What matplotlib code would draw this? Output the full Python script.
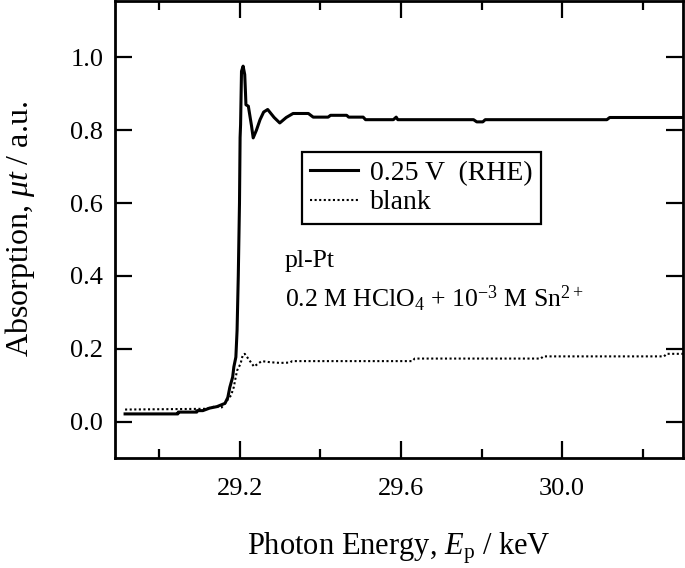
import matplotlib
matplotlib.use("Agg")
import matplotlib.pyplot as plt
from matplotlib.ticker import MultipleLocator, FormatStrFormatter

plt.rcParams.update({
    "font.family": "Liberation Serif", "font.size": 19,
    "mathtext.fontset": "custom", "mathtext.rm": "Liberation Serif",
    "mathtext.it": "Liberation Serif:italic",
    "axes.linewidth": 2.0,
    "xtick.direction": "in", "ytick.direction": "in",
    "xtick.top": True, "ytick.right": True,
    "xtick.major.size": 12, "ytick.major.size": 12,
    "xtick.minor.size": 6.5, "xtick.major.width": 1.6,
    "ytick.major.width": 1.6, "xtick.minor.width": 1.6,
})

# 0.25 V (RHE) spectrum, energy in keV
e_sn = [28.915, 29.046, 29.047, 29.093, 29.094, 29.108, 29.125, 29.143, 29.163,
        29.170, 29.175, 29.182, 29.185, 29.190, 29.193, 29.196, 29.199, 29.2005,
        29.2017, 29.204, 29.208, 29.212, 29.214, 29.215, 29.221, 29.229, 29.233,
        29.241, 29.250, 29.259, 29.269, 29.285, 29.299, 29.315, 29.332, 29.370,
        29.382, 29.419, 29.425, 29.465, 29.470, 29.506, 29.512, 29.581, 29.588,
        29.592, 29.780, 29.788, 29.803, 29.809, 30.111, 30.118, 30.300]
mu_sn = [0.021, 0.021, 0.026, 0.026, 0.030, 0.030, 0.037, 0.041, 0.050,
         0.066, 0.094, 0.122, 0.150, 0.177, 0.25, 0.40, 0.60, 0.78,
         0.815, 0.962, 0.976, 0.953, 0.90, 0.870, 0.866, 0.811, 0.779,
         0.800, 0.829, 0.850, 0.857, 0.835, 0.820, 0.835, 0.846, 0.846,
         0.836, 0.836, 0.841, 0.841, 0.836, 0.836, 0.829, 0.829, 0.836,
         0.829, 0.829, 0.823, 0.823, 0.829, 0.829, 0.835, 0.835]

# blank spectrum
e_blank = [28.915, 29.115, 29.136, 29.155, 29.165, 29.178, 29.185, 29.188, 29.193,
           29.2017, 29.207, 29.212, 29.235, 29.254, 29.275, 29.300, 29.324, 29.330,
           29.628, 29.634, 29.947, 29.953, 30.253, 30.259, 30.300]
mu_blank = [0.033, 0.035, 0.041, 0.039, 0.053, 0.072, 0.095, 0.113, 0.140,
            0.159, 0.182, 0.186, 0.151, 0.166, 0.163, 0.161, 0.162, 0.166,
            0.166, 0.173, 0.173, 0.179, 0.179, 0.186, 0.186]

fig = plt.figure(figsize=(6.85, 5.68), dpi=100)
ax = fig.add_axes([0.1679, 0.1937, 0.8292, 0.8046])
ax.plot(e_sn, mu_sn, color="black", lw=2.2, label="0.25 V  (RHE)")
ax.plot(e_blank, mu_blank, color="black", lw=1.5, ls=(0, (1, 1.2)), label="blank")

ax.set_xlim(28.89, 30.30); ax.set_ylim(-0.10, 1.155)
ax.xaxis.set_major_locator(MultipleLocator(0.4))
ax.xaxis.set_minor_locator(MultipleLocator(0.2))
ax.yaxis.set_major_locator(MultipleLocator(0.2))
ax.xaxis.set_major_formatter(FormatStrFormatter("%.1f"))
ax.yaxis.set_major_formatter(FormatStrFormatter("%.1f"))
ax.tick_params(axis="y", which="major", pad=8.5)
ax.tick_params(axis="x", which="major", pad=14.5)

ax.set_xlabel(r"Photon Energy, $E_{\mathrm{p}}$ / keV", fontsize=22, labelpad=22)
ax.set_ylabel(r"Absorption, $\mu t$ / a.u.", fontsize=23, labelpad=24)

leg = ax.legend(loc="upper left", bbox_to_anchor=(302 / 685, 1 - 152 / 568),
                bbox_transform=fig.transFigure, fancybox=False, framealpha=1,
                edgecolor="black", borderaxespad=0, borderpad=0.3,
                handlelength=1.7, handletextpad=0.45, labelspacing=0.15,
                fontsize=20)
leg.get_frame().set_linewidth(1.6)

# sample / electrolyte notes
ax.text(29.312, 0.425, "pl-Pt", fontsize=18.5, ha="left", va="baseline")
ax.text(29.312, 0.315, r"0.2 M HClO$_4$ + 10$^{-3}$ M Sn$^{2+}$",
        fontsize=18.5, ha="left", va="baseline")

fig.savefig("out.png", dpi=100)
